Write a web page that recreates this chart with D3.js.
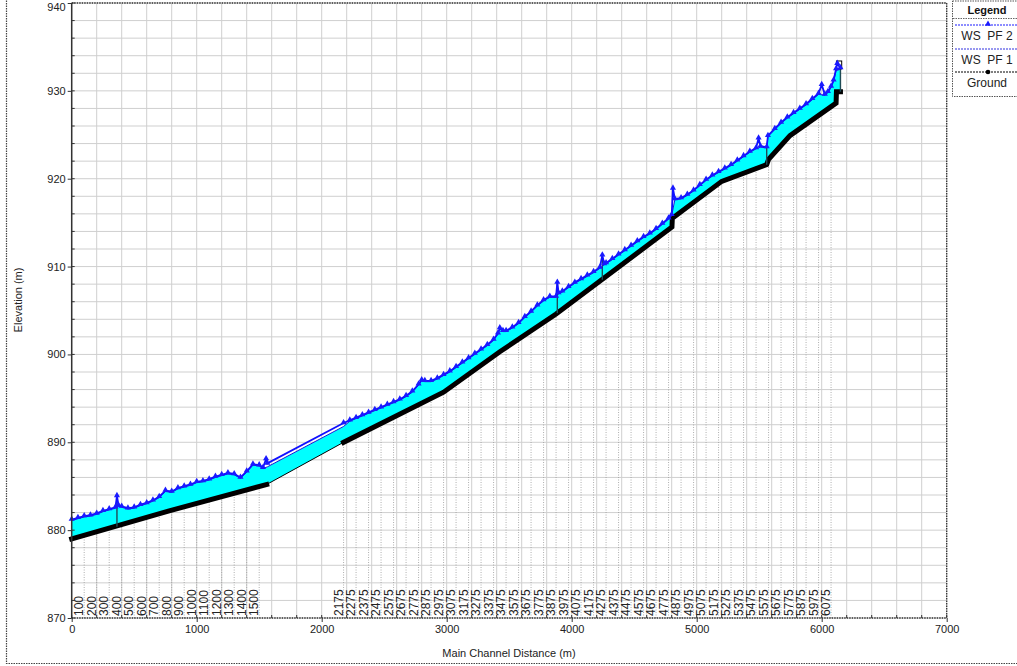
<!DOCTYPE html>
<html>
<head>
<meta charset="utf-8">
<script src="https://cdn.jsdelivr.net/npm/d3@7"></script>
<style>
  html, body { margin: 0; padding: 0; background: #fff; }
  svg { display: block; font-family: "Liberation Sans", Arial, sans-serif; }
</style>
</head>
<body>
<svg id="chart" width="1017" height="666"></svg>
<script>
// ---- Profile data (main channel distance in m, elevation in m) ----

// Water surface, profile PF 2 (includes rises upstream of structures)
const wsPF2Dist = [0, 50, 100, 150, 200, 250, 300, 350, 362, 375, 400, 450, 500, 550, 600, 650, 700, 750, 800, 850,
  900, 950, 1000, 1050, 1100, 1150, 1200, 1250, 1300, 1350, 1400, 1450, 1500, 1530, 1555, 1565,
  2175, 2225, 2275, 2325, 2375, 2425, 2475, 2525, 2575, 2625, 2675, 2725, 2775, 2800, 2825, 2875, 2925, 2975,
  3025, 3075, 3125, 3175, 3225, 3275, 3325, 3375, 3410, 3425, 3450, 3475, 3525, 3575, 3625, 3675, 3725, 3775,
  3825, 3875, 3885, 3895, 3925, 3975, 4025, 4075, 4125, 4175, 4225, 4245, 4260, 4275, 4325, 4375, 4425, 4475,
  4525, 4575, 4625, 4675, 4725, 4775, 4800, 4810, 4825, 4875, 4925, 4975, 5025, 5075, 5125, 5175, 5225, 5275,
  5325, 5375, 5425, 5475, 5495, 5510, 5560, 5570, 5625, 5675, 5725, 5775, 5825, 5875, 5925, 5975, 6000, 6025,
  6050, 6075, 6095, 6115, 6125, 6150];
const wsPF2Elev = [881.2, 881.4, 881.6, 881.7, 881.9, 882.2, 882.4, 882.6, 883.9, 882.8, 882.7, 882.5, 882.6, 882.9, 883.1, 883.4, 883.8, 884.5, 884.4, 884.8,
  885.0, 885.2, 885.5, 885.6, 885.8, 886.1, 886.3, 886.5, 886.4, 886.0, 886.7, 887.5, 887.4, 887.1, 888.1, 887.6,
  892.2, 892.5, 892.8, 893.1, 893.4, 893.7, 894.0, 894.3, 894.6, 894.9, 895.3, 895.8, 896.6, 897.1, 897.0, 897.0, 897.3, 897.7,
  898.1, 898.6, 899.1, 899.6, 900.1, 900.6, 901.1, 901.7, 902.4, 903.0, 902.7, 902.7, 903.1, 903.6, 904.3, 904.9, 905.6, 906.2,
  906.6, 906.6, 908.2, 907.0, 907.2, 907.7, 908.2, 908.6, 909.0, 909.4, 909.9, 911.3, 910.3, 910.4, 910.9, 911.4, 911.9, 912.4,
  912.9, 913.4, 913.8, 914.3, 914.9, 915.5, 915.9, 918.9, 917.7, 917.8, 918.2, 918.7, 919.3, 919.9, 920.4, 920.8, 921.2, 921.6,
  922.1, 922.6, 923.1, 923.5, 924.6, 923.7, 923.6, 924.9, 925.7, 926.4, 927.0, 927.5, 928.0, 928.5, 929.1, 929.7, 930.7, 929.6,
  929.9, 930.5, 931.2, 932.5, 933.1, 932.6];

// Water surface, profile PF 1
const wsPF1Dist = [0, 50, 100, 150, 200, 250, 300, 350, 375, 400, 450, 500, 550, 600, 650, 700, 750, 800, 850, 900,
  950, 1000, 1050, 1100, 1150, 1200, 1250, 1300, 1350, 1400, 1450, 1500, 1530, 1565,
  2175, 2225, 2275, 2325, 2375, 2425, 2475, 2525, 2575, 2625, 2675, 2725, 2775, 2800, 2825, 2875, 2925, 2975,
  3025, 3075, 3125, 3175, 3225, 3275, 3325, 3375, 3410, 3425, 3450, 3475, 3525, 3575, 3625, 3675, 3725, 3775,
  3825, 3875, 3895, 3925, 3975, 4025, 4075, 4125, 4175, 4225, 4260, 4275, 4325, 4375, 4425, 4475, 4525, 4575,
  4625, 4675, 4725, 4775, 4800, 4825, 4875, 4925, 4975, 5025, 5075, 5125, 5175, 5225, 5275, 5325, 5375, 5425,
  5475, 5510, 5560, 5570, 5625, 5675, 5725, 5775, 5825, 5875, 5925, 5975, 6025, 6050, 6075, 6095, 6115, 6150];
const wsPF1Elev = [881.1, 881.3, 881.5, 881.6, 881.8, 882.1, 882.3, 882.5, 882.7, 882.6, 882.4, 882.5, 882.8, 883.0, 883.3, 883.7, 884.4, 884.3, 884.7, 884.9,
  885.1, 885.4, 885.5, 885.7, 886.0, 886.2, 886.4, 886.3, 885.9, 886.6, 887.4, 887.3, 887.0, 887.2,
  891.8, 892.4, 892.7, 893.0, 893.3, 893.6, 893.9, 894.2, 894.5, 894.8, 895.2, 895.7, 896.5, 897.0, 896.9, 896.9, 897.2, 897.6,
  898.0, 898.5, 899.0, 899.5, 900.0, 900.5, 901.0, 901.6, 902.3, 902.9, 902.6, 902.6, 903.0, 903.5, 904.2, 904.8, 905.5, 906.1,
  906.5, 906.5, 906.9, 907.1, 907.6, 908.1, 908.5, 908.9, 909.3, 909.8, 910.2, 910.3, 910.8, 911.3, 911.8, 912.3, 912.8, 913.3,
  913.7, 914.2, 914.8, 915.4, 915.8, 917.6, 917.7, 918.1, 918.6, 919.2, 919.8, 920.3, 920.7, 921.1, 921.5, 922.0, 922.5, 923.0,
  923.4, 923.6, 923.5, 924.8, 925.6, 926.3, 926.9, 927.4, 927.9, 928.4, 929.0, 929.6, 929.5, 929.8, 930.4, 931.1, 932.3, 932.5];

// Channel invert (ground)
const groundDist = [0, 780, 1560, 2175, 2975, 3425, 3875, 4802, 4805, 5200, 5560, 5575, 5746, 6115, 6118, 6150];
const groundElev = [879.0, 882.2, 885.2, 890.0, 895.7, 900.3, 904.6, 914.5, 915.5, 919.7, 921.6, 922.2, 924.9, 928.6, 929.9, 929.9];

// Reach without surveyed cross sections (ground drawn as a thin link only)
const unsurveyedReach = [1560, 2175];

// Structures drawn as vertical lines: station, bottom, top
const structDist = [362, 3885, 4245, 5560, 6150];
const structLow = [880.4, 904.7, 908.5, 921.6, 929.9];
const structHigh = [883.9, 908.2, 911.3, 923.6, 932.6];

// Weir crest box at the upstream end
const crestDist = [6118, 6160];
const crestElev = [932.5, 933.4];

// River station labels along the bottom
const stationLabels = [100, 200, 300, 400, 500, 600, 700, 800, 900, 1000, 1100, 1200, 1300, 1400, 1500,
  2175, 2275, 2375, 2475, 2575, 2675, 2775, 2875, 2975, 3075, 3175, 3275, 3375, 3475, 3575, 3675, 3775, 3875,
  3975, 4075, 4175, 4275, 4375, 4475, 4575, 4675, 4775, 4875, 4975, 5075, 5175, 5275, 5375, 5475, 5575, 5675,
  5775, 5875, 5975, 6075];

// Axis ticks
const xTicks = [0, 1000, 2000, 3000, 4000, 5000, 6000, 7000];
const yTicks = [870, 880, 890, 900, 910, 920, 930, 940];

// Legend entries
const legendNames = ["WS  PF 2", "WS  PF 1", "Ground"];

// ---- Drawing ----
const svg = d3.select("#chart");
const x = d3.scaleLinear().domain([0, 7000]).range([71.7, 946.7]);
const y = d3.scaleLinear().domain([870, 940]).range([618, 3]);
const FONT = 11;

const zip = (a, b) => a.map((v, i) => [v, b[i]]);
const pf2 = zip(wsPF2Dist, wsPF2Elev);
const pf1 = zip(wsPF1Dist, wsPF1Elev);
const ground = zip(groundDist, groundElev);
const line = d3.line().x(d => x(d[0])).y(d => y(d[1]));

// outer frame
svg.append("path")
  .attr("d", "M6.5,-2 V663.5 H1030")
  .attr("fill", "none").attr("stroke", "#444").attr("stroke-width", 1.2)
  .attr("stroke-dasharray", "1.5,1");

// grid
const grid = svg.append("g");
grid.selectAll("line.gx").data(d3.range(0, 7001, 200)).join("line")
  .attr("x1", d => x(d)).attr("x2", d => x(d)).attr("y1", y(870)).attr("y2", y(940))
  .attr("stroke", "#cfcfcf").attr("stroke-width", 1);
grid.selectAll("line.gy").data(d3.range(870, 941, 2)).join("line")
  .attr("x1", x(0)).attr("x2", x(7000)).attr("y1", d => y(d)).attr("y2", d => y(d))
  .attr("stroke", "#cfcfcf").attr("stroke-width", 1);

// station lines below the ground
const clipPts = ground.concat([[groundDist[groundDist.length - 1], 870], [0, 870]]);
svg.append("clipPath").attr("id", "belowGround")
  .append("path").attr("d", line(clipPts) + "Z");
svg.append("g").attr("clip-path", "url(#belowGround)")
  .selectAll("line").data(stationLabels).join("line")
  .attr("x1", d => x(d)).attr("x2", d => x(d)).attr("y1", y(870)).attr("y2", y(940))
  .attr("stroke", "#9a9a9a").attr("stroke-width", 0.8).attr("stroke-dasharray", "1,1.5");

// water fill between PF 1 surface and ground
const fillPts = pf1.concat(ground.slice().reverse());
svg.append("path").attr("d", line(fillPts) + "Z")
  .attr("fill", "#00ffff").attr("stroke", "none");

// ground: thin link through the whole profile, thick where surveyed
svg.append("path").attr("d", line(ground))
  .attr("fill", "none").attr("stroke", "#000").attr("stroke-width", 1);
const lowerGround = ground.filter(d => d[0] <= unsurveyedReach[0]);
const upperGround = ground.filter(d => d[0] >= unsurveyedReach[1]);
[lowerGround, upperGround].forEach(seg => {
  svg.append("path").attr("d", line(seg))
    .attr("fill", "none").attr("stroke", "#000").attr("stroke-width", 5)
    .attr("stroke-linejoin", "miter").attr("stroke-linecap", "square");
});

// structures
svg.append("g").selectAll("line").data(structDist).join("line")
  .attr("x1", d => x(d)).attr("x2", d => x(d))
  .attr("y1", (d, i) => y(structLow[i])).attr("y2", (d, i) => y(structHigh[i]))
  .attr("stroke", "#1f4a55").attr("stroke-width", 1.4);
svg.append("rect")
  .attr("x", x(crestDist[0])).attr("width", x(crestDist[1]) - x(crestDist[0]))
  .attr("y", y(crestElev[1])).attr("height", y(crestElev[0]) - y(crestElev[1]))
  .attr("fill", "none").attr("stroke", "#000").attr("stroke-width", 1);

// water surfaces
svg.append("path").attr("d", line(pf1))
  .attr("fill", "none").attr("stroke", "#1b1bd8").attr("stroke-width", 1);
svg.append("path").attr("d", line(pf2))
  .attr("fill", "none").attr("stroke", "#1010ff").attr("stroke-width", 1.8);
const tri = d3.symbol().type(d3.symbolTriangle).size(16);
svg.append("g").selectAll("path").data(pf2).join("path")
  .attr("d", tri)
  .attr("transform", d => `translate(${x(d[0])},${y(d[1]) - 0.5})`)
  .attr("fill", "#1a1aff");

// plot frame
svg.append("line").attr("x1", x(0)).attr("x2", x(0)).attr("y1", y(940)).attr("y2", y(870))
  .attr("stroke", "#333").attr("stroke-width", 1.5);
[[x(0), y(940), x(7000), y(940)], [x(7000), y(940), x(7000), y(870)], [x(0), y(870), x(7000), y(870)]]
  .forEach(s => svg.append("line")
    .attr("x1", s[0]).attr("y1", s[1]).attr("x2", s[2]).attr("y2", s[3])
    .attr("stroke", "#333").attr("stroke-width", 1.3).attr("stroke-dasharray", "1.5,1"));

// axes
const yAxis = svg.append("g").attr("transform", `translate(${x(0)},0)`)
  .call(d3.axisLeft(y).tickValues(yTicks).tickSize(4).tickPadding(2).tickFormat(d3.format("d")));
const xAxis = svg.append("g").attr("transform", `translate(0,${y(870)})`)
  .call(d3.axisBottom(x).tickValues(xTicks).tickSize(4).tickPadding(3).tickFormat(d3.format("d")));
[yAxis, xAxis].forEach(a => {
  a.select(".domain").remove();
  a.selectAll("line").attr("stroke", "#333");
  a.selectAll("text").attr("font-size", FONT).attr("fill", "#222")
    .attr("font-family", "Liberation Sans, Arial, sans-serif");
});
// keep the top elevation label inside the page
yAxis.selectAll(".tick text").filter(d => d === 940).attr("dy", "0.72em");
// minor ticks
svg.append("g").selectAll("line").data(d3.range(870, 941, 2)).join("line")
  .attr("x1", x(0)).attr("x2", x(0) + 3).attr("y1", d => y(d)).attr("y2", d => y(d))
  .attr("stroke", "#333");
svg.append("g").selectAll("line").data(d3.range(0, 7001, 200)).join("line")
  .attr("x1", d => x(d)).attr("x2", d => x(d)).attr("y1", y(870)).attr("y2", y(870) - 3)
  .attr("stroke", "#333");

// station labels
svg.append("g").selectAll("text").data(stationLabels).join("text")
  .attr("transform", d => `translate(${x(d) - 1},${y(870) - 2}) rotate(-90)`)
  .attr("text-anchor", "start").attr("font-size", 12).attr("fill", "#222")
  .text(d => d);

// axis titles
svg.append("text").attr("x", 509).attr("y", 657).attr("text-anchor", "middle")
  .attr("font-size", FONT).attr("fill", "#222").text("Main Channel Distance (m)");
svg.append("text").attr("transform", "translate(22,300) rotate(-90)").attr("text-anchor", "middle")
  .attr("font-size", FONT).attr("fill", "#222").text("Elevation (m)");

// legend
const lg = svg.append("g");
lg.append("rect").attr("x", 952.5).attr("y", 1).attr("width", 80).attr("height", 95.5)
  .attr("fill", "#fff").attr("stroke", "#555").attr("stroke-width", 1).attr("stroke-dasharray", "1.5,1");
lg.append("text").attr("x", 987).attr("y", 14).attr("text-anchor", "middle")
  .attr("font-size", 11).attr("font-weight", "bold").attr("fill", "#111").text("Legend");
lg.append("line").attr("x1", 953).attr("x2", 1017).attr("y1", 18.5).attr("y2", 18.5)
  .attr("stroke", "#666").attr("stroke-dasharray", "1.5,1");
const legY = [25, 49, 72];
const legColor = ["#1a1aff", "#3030e0", "#000"];
legendNames.forEach((name, i) => {
  lg.append("line").attr("x1", 955).attr("x2", 1017).attr("y1", legY[i]).attr("y2", legY[i])
    .attr("stroke", legColor[i]).attr("stroke-width", 1).attr("stroke-dasharray", "2,1");
  if (i === 0) {
    lg.append("path").attr("d", d3.symbol().type(d3.symbolTriangle).size(16))
      .attr("transform", `translate(988,${legY[i] - 1})`).attr("fill", legColor[i]);
  }
  if (i === 2) {
    lg.append("circle").attr("cx", 988).attr("cy", legY[i]).attr("r", 2.3).attr("fill", "#000");
  }
  lg.append("text").attr("x", 987).attr("y", legY[i] + 14.5).attr("text-anchor", "middle")
    .attr("font-size", 12).attr("fill", "#222").attr("xml:space", "preserve").style("white-space", "pre")
    .text(name);
});
</script>
</body>
</html>
